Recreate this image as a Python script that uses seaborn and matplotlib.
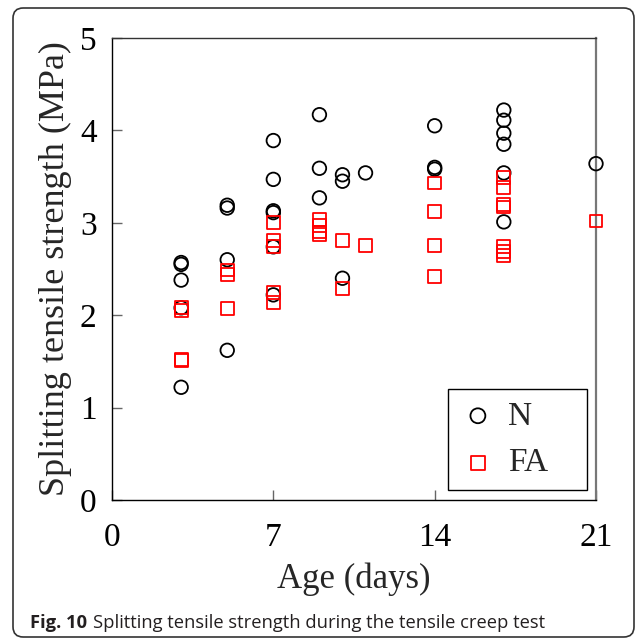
import numpy as np
import pandas as pd
import matplotlib
matplotlib.use("Agg")
import matplotlib.pyplot as plt
import seaborn as sns
from matplotlib.patches import FancyBboxPatch

# ---- data ----
n_days = [3, 3, 3, 3, 3,
          5, 5, 5, 5,
          7, 7, 7, 7, 7, 7,
          9, 9, 9,
          10, 10, 10,
          11,
          14, 14, 14,
          17, 17, 17, 17, 17, 17,
          21]
n_strength = [2.57, 2.55, 2.38, 2.08, 1.22,
              3.19, 3.16, 2.60, 1.62,
              3.89, 3.47, 3.13, 3.11, 2.74, 2.22,
              4.17, 3.59, 3.27,
              3.52, 3.45, 2.40,
              3.54,
              4.05, 3.60, 3.58,
              4.22, 4.11, 3.97, 3.85, 3.54, 3.01,
              3.64]
fa_days = [3, 3, 3, 3,
           5, 5, 5,
           7, 7, 7, 7, 7,
           9, 9, 9, 9,
           10, 10,
           11,
           14, 14, 14, 14,
           17, 17, 17, 17, 17, 17, 17,
           21]
fa_strength = [2.08, 2.05, 1.52, 1.51,
               2.49, 2.44, 2.07,
               3.00, 2.81, 2.74, 2.25, 2.14,
               3.04, 2.97, 2.90, 2.87,
               2.81, 2.29,
               2.75,
               3.43, 3.12, 2.75, 2.42,
               3.49, 3.38, 3.20, 3.17, 2.74, 2.69, 2.65,
               3.02]
x_ticks = [0, 7, 14, 21]
y_ticks = [0, 1, 2, 3, 4, 5]
series_names = ["N", "FA"]

df_n = pd.DataFrame({"Age": n_days, "Strength": n_strength})
df_fa = pd.DataFrame({"Age": fa_days, "Strength": fa_strength})

sns.set_theme(style="white")
plt.rcParams["font.family"] = ["Liberation Serif", "DejaVu Serif"]

W, H = 637, 639
fig = plt.figure(figsize=(W / 100, H / 100), dpi=100)
ax = fig.add_axes([112 / W, 1 - 500 / H, (596 - 112) / W, (500 - 38) / H])

sns.scatterplot(data=df_n, x="Age", y="Strength", ax=ax, marker="o", s=95,
                facecolor="none", edgecolor="black", linewidth=1.3,
                label=series_names[0], clip_on=False, zorder=3)
sns.scatterplot(data=df_fa, x="Age", y="Strength", ax=ax, marker="s", s=85,
                facecolor="none", edgecolor="#ff0000", linewidth=1.3,
                label=series_names[1], clip_on=False, zorder=3)

ax.set_xlim(0, 21)
ax.set_ylim(0, 5)
ax.set_xticks(x_ticks)
ax.set_yticks(y_ticks)
ax.set_xticklabels([str(v) for v in x_ticks])
ax.set_yticklabels([str(v) for v in y_ticks])
ax.tick_params(axis="both", direction="in", length=7.5, width=1, color="#666666",
               labelsize=24, labelcolor="black",
               bottom=True, left=True, top=False, right=False)
ax.tick_params(axis="x", pad=16)
ax.tick_params(axis="y", pad=11)
ax.set_xlabel("Age (days)", fontsize=25, labelpad=7)
ax.set_ylabel("Splitting tensile strength (MPa)", fontsize=26, labelpad=6)

for side, col, lw in [("left", "black", 1.0), ("bottom", "black", 1.0),
                      ("top", "#333333", 1.0), ("right", "#777777", 1.6)]:
    ax.spines[side].set_visible(True)
    ax.spines[side].set_color(col)
    ax.spines[side].set_linewidth(lw)

leg = ax.legend(loc="lower left", bbox_to_anchor=(0.694, 0.0216, 0.287, 0.0),
                mode="expand", borderaxespad=0, fontsize=24, frameon=True,
                fancybox=False, framealpha=1, edgecolor="black",
                handletextpad=0.35, labelspacing=0.49, borderpad=0.35,
                handlelength=1.1, markerscale=1.1)
leg.get_frame().set_linewidth(1.0)

# outer rounded frame
frame = FancyBboxPatch((13 / W, 1 - 637 / H), (634 - 13) / W, (637 - 8) / H,
                       boxstyle="round,pad=0,rounding_size=0.016",
                       transform=fig.transFigure, fill=False,
                       edgecolor="#333333", linewidth=1.2)
fig.add_artist(frame)

# caption
t1 = fig.text(30 / W, 1 - 632 / H, "Fig. 10", fontsize=13.2, fontweight="bold",
              family=["Open Sans", "DejaVu Sans"], color="#231f20",
              va="bottom", ha="left")
ax.annotate("Splitting tensile strength during the tensile creep test",
            xy=(1, 0), xycoords=t1, xytext=(4, 0), textcoords="offset points",
            fontsize=13.2, family=["Open Sans", "DejaVu Sans"], color="#231f20",
            va="bottom", ha="left", annotation_clip=False)

fig.savefig("out.png", dpi=100)
